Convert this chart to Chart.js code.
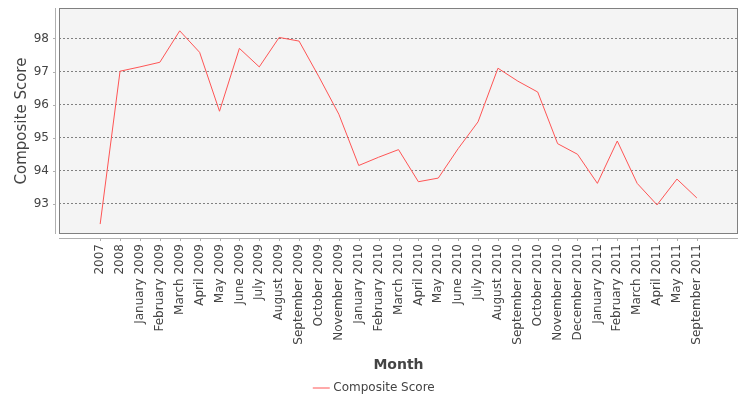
<!DOCTYPE html>
<html>
<head>
<meta charset="utf-8">
<script src="https://cdn.jsdelivr.net/npm/chart.js@4"></script>
<style>
  html, body { margin: 0; padding: 0; background: #ffffff; }
  #wrap { width: 750px; height: 400px; }
</style>
</head>
<body>
<div id="wrap"><canvas id="c" width="750" height="400"></canvas></div>
<script>
const categories = [
  "2007", "2008", "January 2009", "February 2009", "March 2009", "April 2009",
  "May 2009", "June 2009", "July 2009", "August 2009", "September 2009",
  "October 2009", "November 2009", "January 2010", "February 2010", "March 2010",
  "April 2010", "May 2010", "June 2010", "July 2010", "August 2010",
  "September 2010", "October 2010", "November 2010", "December 2010",
  "January 2011", "February 2011", "March 2011", "April 2011", "May 2011",
  "September 2011"
];
const compositeScore = [
  92.39, 97.01, 97.14, 97.28, 98.23, 97.58,
  95.80, 97.70, 97.14, 98.03, 97.92,
  96.84, 95.71, 94.16, 94.41, 94.64,
  93.67, 93.78, 94.67, 95.48, 97.10,
  96.71, 96.38, 94.82, 94.50,
  93.62, 94.90, 93.62, 92.97, 93.75,
  93.18
];
const yTicks = [93, 94, 95, 96, 97, 98];
const seriesName = "Composite Score";

const TEXT = '#444444';
const FONT = 'DejaVu Sans';

const frame = {
  id: 'frame',
  beforeDraw(chart) {
    const {ctx, chartArea: a} = chart;
    ctx.save();
    ctx.fillStyle = '#f4f4f4';
    ctx.fillRect(a.left, a.top, a.right - a.left, a.bottom - a.top);
    ctx.restore();
  },
  afterDraw(chart) {
    const {ctx, chartArea: a} = chart;
    const xs = chart.scales.x, ys = chart.scales.y;
    ctx.save();
    ctx.strokeStyle = '#b0b0b0';
    ctx.lineWidth = 1;
    ctx.beginPath();
    ctx.moveTo(a.left - 3.5, a.top);
    ctx.lineTo(a.left - 3.5, a.bottom);
    ys.ticks.forEach(t => {
      const y = Math.round(ys.getPixelForValue(t.value)) + 0.5;
      ctx.moveTo(a.left - 3.5, y);
      ctx.lineTo(a.left - 6, y);
    });
    ctx.moveTo(a.left, a.bottom + 4.5);
    ctx.lineTo(a.right, a.bottom + 4.5);
    xs.ticks.forEach(t => {
      const x = Math.round(xs.getPixelForValue(t.value)) + 0.5;
      ctx.moveTo(x, a.bottom + 4.5);
      ctx.lineTo(x, a.bottom + 7);
    });
    ctx.stroke();
    ctx.strokeStyle = '#808080';
    ctx.lineWidth = 1;
    ctx.strokeRect(a.left + 0.5, a.top + 0.5, a.right - a.left - 1, a.bottom - a.top - 1);
    ctx.restore();
  }
};

new Chart(document.getElementById('c'), {
  type: 'line',
  data: {
    datasets: [{
      label: seriesName,
      data: compositeScore.map((v, i) => ({x: i, y: v})),
      borderColor: 'rgb(255,85,85)',
      backgroundColor: 'rgb(255,85,85)',
      borderWidth: 1,
      pointRadius: 0,
      pointHoverRadius: 0,
      tension: 0,
      fill: false,
      pointStyle: 'line'
    }]
  },
  options: {
    responsive: false,
    animation: false,
    devicePixelRatio: 1,
    layout: { padding: { left: 0, top: 8, right: 0, bottom: -4 } },
    plugins: {
      legend: {
        position: 'bottom',
        labels: {
          usePointStyle: true,
          pointStyle: 'line',
          boxWidth: 15,
          color: TEXT,
          font: { family: FONT, size: 12 },
          padding: 6
        }
      },
      tooltip: { enabled: false }
    },
    scales: {
      x: {
        type: 'linear',
        min: -2.07,
        max: 32.07,
        afterBuildTicks: (s) => { s.ticks = categories.map((_, i) => ({ value: i })); },
        afterFit: (s) => { s.height = 142; s.paddingLeft = 0; s.paddingRight = 0; },
        grid: { display: false, drawTicks: false },
        border: { display: false },
        ticks: {
          autoSkip: false,
          minRotation: 90,
          maxRotation: 90,
          padding: 10,
          color: TEXT,
          font: { family: FONT, size: 12 },
          callback: (v) => categories[v]
        },
        title: {
          display: true,
          text: 'Month',
          color: TEXT,
          font: { family: FONT, size: 14, weight: 'bold' },
          padding: { top: 0, bottom: 2.6 }
        }
      },
      y: {
        min: 92.09,
        max: 98.92,
        afterBuildTicks: (s) => { s.ticks = yTicks.map(v => ({ value: v })); },
        afterFit: (s) => { s.width = 59; s.paddingTop = 0; s.paddingBottom = 0; },
        grid: { color: '#808080', lineWidth: 1, drawTicks: false },
        border: { display: false, dash: [2, 2] },
        ticks: {
          padding: 10,
          color: TEXT,
          font: { family: FONT, size: 12 },
          callback: (v) => String(v)
        },
        title: {
          display: true,
          text: 'Composite Score',
          color: TEXT,
          font: { family: FONT, size: 15, weight: 'normal' },
          padding: { top: 13, bottom: 0 }
        }
      },
      yRight: {
        position: 'right',
        display: true,
        min: 0,
        max: 1,
        afterFit: (s) => { s.width = 12; s.paddingTop = 0; s.paddingBottom = 0; },
        grid: { display: false, drawTicks: false },
        border: { display: false },
        ticks: { display: false }
      }
    }
  },
  plugins: [frame]
});
</script>
</body>
</html>
